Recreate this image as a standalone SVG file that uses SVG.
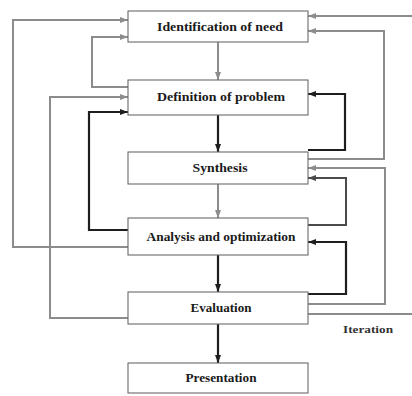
<svg xmlns="http://www.w3.org/2000/svg" width="412" height="396" viewBox="0 0 412 396">
<defs>
<style>
.box{fill:#fff;stroke:#6a6a6a;stroke-width:1.1}
.lbl{font-family:"Liberation Serif","DejaVu Serif",serif;font-size:12.5px;font-weight:bold;fill:#1a1a1a;text-anchor:middle;dominant-baseline:central}
.g{fill:none;stroke:#8c8c8c;stroke-width:2;marker-end:url(#ag)}
.d{fill:none;stroke:#1e1e1e;stroke-width:2.2;marker-end:url(#ad)}
.m{fill:none;stroke:#4a4a4a;stroke-width:2;marker-end:url(#am)}
</style>
<marker id="ag" viewBox="0 0 8 6" refX="8" refY="3" markerWidth="8" markerHeight="6" markerUnits="userSpaceOnUse" orient="auto"><path d="M0,0 L8,3 L0,6 Z" fill="#8c8c8c"/></marker>
<marker id="ad" viewBox="0 0 8 6" refX="8" refY="3" markerWidth="8" markerHeight="6" markerUnits="userSpaceOnUse" orient="auto"><path d="M0,0 L8,3 L0,6 Z" fill="#1e1e1e"/></marker>
<marker id="am" viewBox="0 0 8 6" refX="8" refY="3" markerWidth="8" markerHeight="6" markerUnits="userSpaceOnUse" orient="auto"><path d="M0,0 L8,3 L0,6 Z" fill="#4a4a4a"/></marker>
</defs>
<rect width="412" height="396" fill="#fff"/>
<g id="connectors">
<path class="g" d="M128,247 H13 V20 H128"/>
<path class="g" d="M128,87 H92 V37 H128"/>
<path class="g" d="M128,318 H50 V97 H128"/>
<path class="g" d="M308,159 H384 V31 H308"/>
<path class="g" d="M308,304 H385 V168 H308"/>
<path class="g" d="M308,314 H416 V16 H308"/>
<path class="g" d="M218,42 V80"/>
<path class="g" d="M218,184 V218"/>
<path class="d" d="M128,230 H89 V112 H128"/>
<path class="d" d="M308,150 H345 V94 H308"/>
<path class="m" d="M308,225 H346 V178 H308"/>
<path class="d" d="M308,294 H346 V242 H308"/>
<path class="d" d="M218,115 V152"/>
<path class="d" d="M218,255 V292"/>
<path class="d" d="M218,324 V363"/>
</g>
<g id="identification"><rect class="box" x="128" y="11" width="180" height="31"/><text class="lbl" x="220" y="27" textLength="126" lengthAdjust="spacingAndGlyphs">Identification of need</text></g>
<g id="definition"><rect class="box" x="128" y="80" width="180" height="35"/><text class="lbl" x="221" y="97" textLength="128" lengthAdjust="spacingAndGlyphs">Definition of problem</text></g>
<g id="synthesis"><rect class="box" x="128" y="152" width="180" height="32"/><text class="lbl" x="220" y="168" textLength="55" lengthAdjust="spacingAndGlyphs">Synthesis</text></g>
<g id="analysis"><rect class="box" x="128" y="218" width="180" height="37"/><text class="lbl" x="221" y="237" textLength="149" lengthAdjust="spacingAndGlyphs">Analysis and optimization</text></g>
<g id="evaluation"><rect class="box" x="128" y="292" width="180" height="32"/><text class="lbl" x="221" y="308" textLength="61" lengthAdjust="spacingAndGlyphs">Evaluation</text></g>
<g id="presentation"><rect class="box" x="128" y="363" width="180" height="30"/><text class="lbl" x="221" y="378" textLength="71" lengthAdjust="spacingAndGlyphs">Presentation</text></g>
<text x="343" y="329" font-family="'Liberation Serif','DejaVu Serif',serif" font-size="11" font-weight="bold" fill="#333" dominant-baseline="central" textLength="50" lengthAdjust="spacingAndGlyphs">Iteration</text>
</svg>
